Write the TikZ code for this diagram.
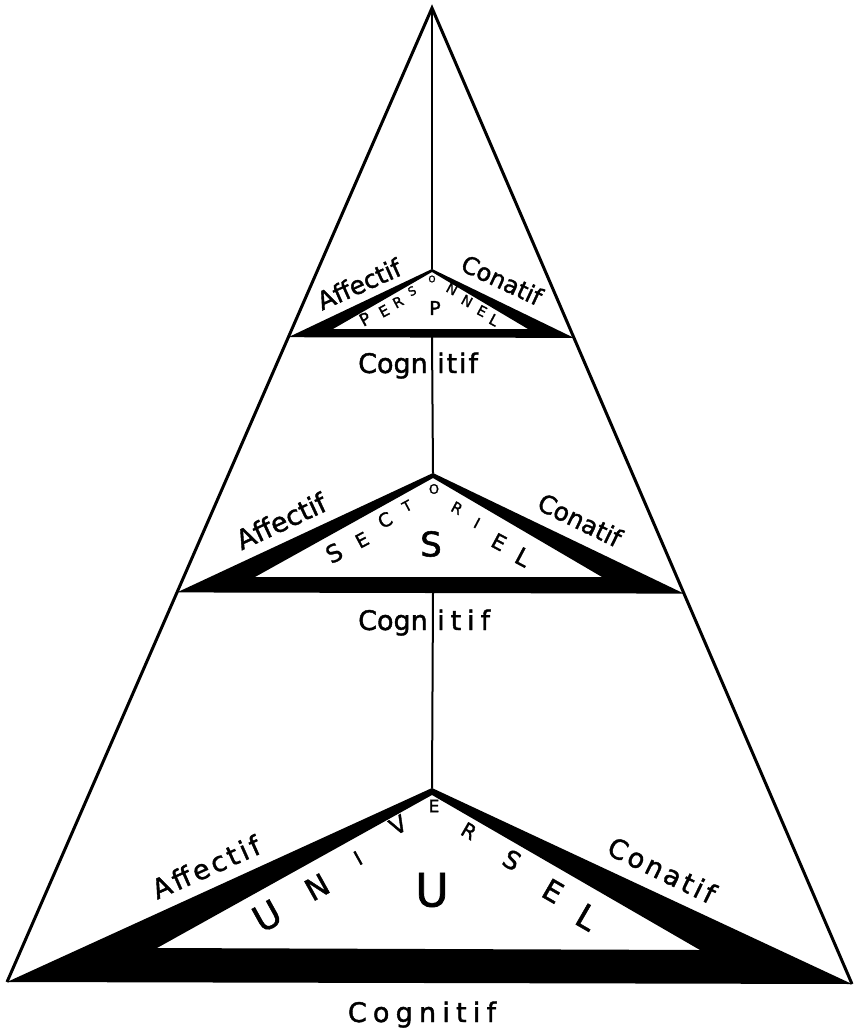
\documentclass[tikz,border=0pt]{standalone}
\usepackage{fontspec}
\newfontfamily\hand[FakeBold=1.5]{DejaVu Sans}
\newfontfamily\handwide[FakeBold=1.5, LetterSpace=12]{DejaVu Sans}
\newfontfamily\handwider[FakeBold=1.5, LetterSpace=23]{DejaVu Sans}
\usetikzlibrary{calc,positioning}

\tikzset{
  side/.style={line width=3pt},
  axis/.style={line width=2pt},
  band/.style={fill=black, even odd rule},
  lab/.style={font=\hand\fontsize{#1}{#1}\selectfont, inner sep=0pt},
  lab/.default=27,
  labwide/.style={font=\handwide\fontsize{27}{27}\selectfont, inner sep=0pt},
  letter/.style={font=\hand\fontsize{#1}{#1}\selectfont, inner sep=0pt},
}

\begin{document}
\begin{tikzpicture}[x=1pt, y=-1pt]
  \useasboundingbox (0,0) rectangle (855,1035);

  % big triangle
  \coordinate (top) at (432,8);
  \coordinate (bl) at (7,982);
  \coordinate (br) at (852,984);
  \coordinate (pl) at ($(top)!0.338!(bl)$);
  \coordinate (pr) at ($(top)!0.338!(br)$);
  \coordinate (sl) at ($(top)!0.6!(bl)$);
  \coordinate (sr) at ($(top)!0.6!(br)$);
  \coordinate (pa) at (432,269);
  \coordinate (sa) at (433,473);
  \coordinate (ua) at (432,788);

  % black bands (outer minus inner triangle)
  \fill[band] (pl) -- (pa) -- (pr) -- cycle (333,329) -- (432,272) -- (528,329) -- cycle;
  \fill[band] (sl) -- (sa) -- (sr) -- cycle (255,577) -- (433,478) -- (602,577) -- cycle;
  \fill[band] (bl) -- (ua) -- (br) -- cycle (157,948) -- (432,795) -- (700,950) -- cycle;

  \draw[side] (bl) -- (top) -- (br);
  \draw[axis] (top) -- (pa);
  \draw[axis] (pa |- pl) -- (sa);
  \draw[axis] (sa |- sl) -- (ua);

  % personnel
  \node[lab=25, rotate=24] (pAff) at (359,284) {Affectif};
  \node[lab=24, rotate=-25] (pCon) at (502,280) {Conatif};
  \node[lab, anchor=base east] (pCogA) at (428,373) {Cogn};
  \node[lab, anchor=base west] (pCogB) at (437,373) {\addfontfeature{LetterSpace=7}itif};
  \node[letter=19] (pCen) at (435,308) {P};
  \foreach \l/\x/\y/\r/\s [count=\i] in {P/365/319/28/17, E/384/311/28/15,
      R/398/302/28/14, S/412/291/28/12, O/432/279/0/9, N/452/289/-28/14,
      N/467/301/-28/14, E/482/311/-28/14, L/494/320/-28/15}
    \node[letter=\s, rotate=\r] (pers\i) at (\x,\y) {\l};

  % sectoriel
  \node[lab, rotate=25] (sAff) at (281,521) {Affectif};
  \node[lab=25, rotate=-26] (sCon) at (580,520) {Conatif};
  \node[lab, anchor=base east] (sCogA) at (428,630) {Cogn};
  \node[lab, anchor=base west] (sCogB) at (437,630) {\addfontfeature{LetterSpace=22}itif};
  \node[letter=34] (sCen) at (431,544) {S};
  \foreach \l/\x/\y/\r/\s [count=\i] in {S/334/553/28/24, E/362/540/28/19,
      C/385/520/28/19, T/407/506/28/14, O/434/489/0/13, R/457/508/-28/15,
      I/477/523/-28/15, E/499/542/-28/21, L/523/557/-28/24}
    \node[letter=\s, rotate=\r] (sect\i) at (\x,\y) {\l};

  % universel
  \node[labwide, rotate=24] (uAff) at (206,867) {Affectif};
  \node[labwide, rotate=-26] (uCon) at (662,870) {Conatif};
  \node[lab, anchor=base, font=\handwider\fontsize{27}{27}\selectfont] (uCog) at (422,1022) {Cognitif};
  \node[letter=46] (uCen) at (432,890) {U};
  \foreach \l/\x/\y/\r/\s [count=\i] in {U/267/916/29/36, N/317/887/29/30,
      I/358/858/29/20, V/398/825/29/23, E/434/806/0/17, R/469/831/-30/20,
      S/512/860/-30/25, E/553/891/-30/29, L/587/917/-30/33}
    \node[letter=\s, rotate=\r] (univ\i) at (\x,\y) {\l};
\end{tikzpicture}
\end{document}
